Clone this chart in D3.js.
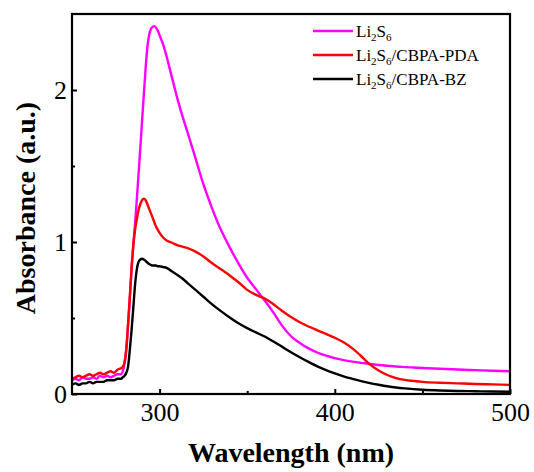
<!DOCTYPE html>
<html>
<head>
<meta charset="utf-8">
<script src="https://cdn.jsdelivr.net/npm/d3@7"></script>
<style>
  html, body { margin: 0; padding: 0; background: #fff; }
  svg { display: block; }
  text { font-family: "Liberation Serif", "Times New Roman", serif; fill: #000; }
</style>
</head>
<body>
<svg id="chart" width="534" height="472"></svg>
<script>
// UV-vis absorbance spectra (wavelength in nm)
const wavelengths = [
  250,252,254,256,258,260,262,264,266,268,270,272,274,276,278,
  279,280,281,282,283,284,285,286,287,288,289,290,291,292,293,294,295,296,297,298,299,300,
  302,304,306,308,310,313,316,320,325,330,335,340,345,350,355,360,365,370,375,380,385,390,395,
  400,405,410,415,420,425,430,435,440,445,450,460,470,480,490,500
];

const li2s6 = [
  0.09,0.10,0.09,0.11,0.10,0.10,0.11,0.10,0.12,0.11,0.12,0.11,0.12,0.13,0.13,
  0.15,0.20,0.29,0.45,0.63,0.82,0.98,1.12,1.28,1.45,1.62,1.80,1.97,2.14,2.28,2.36,2.40,2.415,2.42,2.41,2.39,2.36,
  2.30,2.22,2.13,2.04,1.95,1.83,1.72,1.57,1.38,1.22,1.08,0.965,0.86,0.765,0.69,0.615,0.535,0.448,0.38,0.335,0.30,0.273,0.252,
  0.236,0.223,0.213,0.205,0.198,0.191,0.186,0.181,0.177,0.174,0.171,0.166,0.161,0.157,0.153,0.15
];

const li2s6Pda = [
  0.10,0.11,0.12,0.11,0.12,0.13,0.12,0.13,0.14,0.13,0.14,0.15,0.14,0.16,0.17,
  0.18,0.21,0.30,0.46,0.64,0.83,0.98,1.08,1.15,1.21,1.25,1.275,1.285,1.275,1.25,1.22,1.19,1.16,1.13,1.10,1.08,1.06,
  1.03,1.01,1.00,0.99,0.98,0.97,0.96,0.94,0.905,0.86,0.82,0.78,0.735,0.685,0.652,0.628,0.59,0.546,0.506,0.472,0.444,0.419,0.395,
  0.37,0.34,0.30,0.25,0.195,0.155,0.125,0.105,0.093,0.086,0.08,0.074,0.07,0.066,0.063,0.06
];

const li2s6Bz = [
  0.06,0.07,0.06,0.07,0.07,0.08,0.07,0.08,0.08,0.08,0.09,0.09,0.09,0.10,0.10,
  0.11,0.12,0.14,0.18,0.29,0.42,0.57,0.72,0.82,0.87,0.885,0.89,0.885,0.875,0.865,0.855,0.85,0.845,0.845,0.845,0.84,0.84,
  0.835,0.83,0.815,0.80,0.785,0.76,0.73,0.69,0.64,0.59,0.545,0.503,0.465,0.433,0.405,0.378,0.345,0.31,0.275,0.242,0.211,0.182,0.157,
  0.135,0.116,0.10,0.085,0.072,0.061,0.051,0.043,0.037,0.032,0.028,0.023,0.02,0.018,0.016,0.015
];

const seriesNames = ["Li2S6", "Li2S6/CBPA-PDA", "Li2S6/CBPA-BZ"];
const seriesColors = ["#ff00ff", "#ff0000", "#000000"];
const seriesValues = [li2s6, li2s6Pda, li2s6Bz];

const xMajorTicks = [300, 400, 500];
const xMinorTicks = [350, 450];
const yMajorTicks = [0, 1, 2];
const yMinorTicks = [0.5, 1.5];

const svg = d3.select("#chart");
const margin = { left: 72, top: 14, right: 24, bottom: 78 };
const W = 534, H = 472;
const innerW = W - margin.left - margin.right;
const innerH = H - margin.top - margin.bottom;

const x = d3.scaleLinear().domain([250, 500]).range([0, innerW]);
const y = d3.scaleLinear().domain([0, 2.5]).range([innerH, 0]);

const g = svg.append("g").attr("transform", `translate(${margin.left},${margin.top})`);

g.append("clipPath").attr("id", "plot-clip")
  .append("rect").attr("x", 0).attr("y", 0).attr("width", innerW).attr("height", innerH);

// spectra
const line = d3.line()
  .x((d, i) => x(wavelengths[i]))
  .y(d => y(d))
  .curve(d3.curveMonotoneX);

const curves = g.append("g").attr("clip-path", "url(#plot-clip)");
seriesValues.forEach((vals, k) => {
  curves.append("path")
    .attr("d", line(vals))
    .attr("fill", "none")
    .attr("stroke", seriesColors[k])
    .attr("stroke-width", 2.4)
    .attr("stroke-linejoin", "round");
});

// axes with inward ticks
g.append("g").attr("transform", `translate(0,${innerH})`)
  .call(d3.axisBottom(x).tickValues(xMajorTicks).tickSize(-5).tickPadding(9).tickFormat(d3.format("d")));
g.append("g").attr("transform", `translate(0,${innerH})`)
  .call(d3.axisBottom(x).tickValues(xMinorTicks).tickSize(-3).tickFormat(""));
g.append("g")
  .call(d3.axisLeft(y).tickValues(yMajorTicks).tickSize(-5).tickPadding(5).tickFormat(d3.format("d")));
g.append("g")
  .call(d3.axisLeft(y).tickValues(yMinorTicks).tickSize(-3).tickFormat(""));

g.selectAll(".domain").remove();
g.selectAll(".tick line").attr("stroke", "#000").attr("stroke-width", 2);
g.selectAll(".tick text")
  .style("font-family", "'Liberation Serif', 'Times New Roman', serif")
  .style("font-size", "26px")
  .attr("fill", "#000");

// frame
g.append("rect")
  .attr("x", 0).attr("y", 0).attr("width", innerW).attr("height", innerH)
  .attr("fill", "none").attr("stroke", "#000").attr("stroke-width", 2.2);

// axis titles
svg.append("text")
  .attr("x", margin.left + innerW / 2).attr("y", 462)
  .attr("text-anchor", "middle")
  .style("font-size", "28px").style("font-weight", "bold")
  .text("Wavelength (nm)");

svg.append("text")
  .attr("transform", `translate(35,${margin.top + innerH / 2 + 4}) rotate(-90)`)
  .attr("text-anchor", "middle")
  .style("font-size", "28px").style("font-weight", "bold")
  .text("Absorbance (a.u.)");

// legend
const legend = svg.append("g").attr("transform", "translate(313,31)");
seriesNames.forEach((name, k) => {
  const row = legend.append("g").attr("transform", `translate(0,${k * 24})`);
  row.append("line")
    .attr("x1", 0).attr("x2", 40).attr("y1", 0).attr("y2", 0)
    .attr("stroke", seriesColors[k]).attr("stroke-width", 2.4);
  const t = row.append("text").attr("x", 43).attr("y", 6).style("font-size", "17px");
  // digits after element symbols are drawn as subscripts
  const parts = name.match(/[A-Za-z\/\-]+|\d+/g);
  let shifted = 0;
  parts.forEach(p => {
    const isSub = /^\d+$/.test(p);
    const target = isSub ? 4 : 0;
    t.append("tspan")
      .attr("dy", target - shifted)
      .style("font-size", isSub ? "11px" : "17px")
      .text(p);
    shifted = target;
  });
});
</script>
</body>
</html>
